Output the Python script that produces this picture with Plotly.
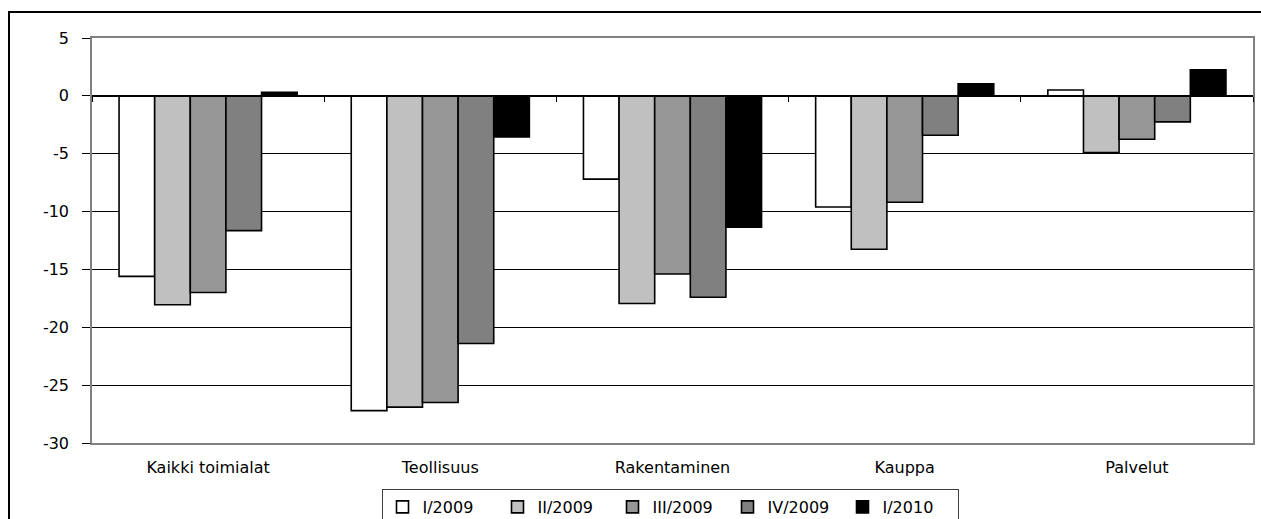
import plotly.graph_objects as go

categories = ["Kaikki toimialat", "Teollisuus", "Rakentaminen", "Kauppa", "Palvelut"]
series_names = ["I/2009", "II/2009", "III/2009", "IV/2009", "I/2010"]
v_I_2009 = [-15.6, -27.2, -7.2, -9.6, 0.5]
v_II_2009 = [-18.05, -26.9, -17.95, -13.25, -4.9]
v_III_2009 = [-17.0, -26.5, -15.4, -9.2, -3.75]
v_IV_2009 = [-11.65, -21.4, -17.4, -3.4, -2.25]
v_I_2010 = [0.3, -3.55, -11.35, 1.05, 2.25]
series_values = [v_I_2009, v_II_2009, v_III_2009, v_IV_2009, v_I_2010]
colors = ["#ffffff", "#c0c0c0", "#969696", "#808080", "#000000"]
y_ticks = [5, 0, -5, -10, -15, -20, -25, -30]
y_tick_labels = ["5", "0", "-5", "-10", "-15", "-20", "-25", "-30"]
y_min, y_max = -30, 5

FONT = "DejaVu Sans, Arial, sans-serif"

fig = go.Figure()
for name, vals, col in zip(series_names, series_values, colors):
    fig.add_trace(go.Bar(
        x=categories, y=vals, name=name,
        marker=dict(color=col, line=dict(color="#000000", width=1.6)),
    ))

W, H = 1261, 519
L, R, T, B = 92, 8, 38, 76
pw = W - L - R
ph = H - T - B

fig.update_layout(
    width=W, height=H,
    margin=dict(l=L, r=R, t=T, b=B, pad=0, autoexpand=False),
    paper_bgcolor="white", plot_bgcolor="white",
    barmode="group", bargap=0.233, bargroupgap=0,
    font=dict(family=FONT, size=16, color="black"),
    showlegend=True,
    legend=dict(
        orientation="h", x=(670 - L) / pw, xanchor="center",
        y=-(489 - (T + ph)) / ph, yanchor="top",
        bordercolor="#404040", borderwidth=1,
        font=dict(family=FONT, size=16, color="black"),
        itemwidth=30, tracegroupgap=0,
        entrywidth=70,
    ),
    xaxis=dict(
        showline=True, linecolor="#808080", linewidth=1.5, mirror=True,
        ticks="", showgrid=False,
        tickfont=dict(family=FONT, size=16, color="black"),
        ticklabelstandoff=9,
    ),
    xaxis2=dict(
        matches="x", overlaying="x", anchor="free",
        position=(0 - y_min) / (y_max - y_min),
        showline=True, linecolor="#000000", linewidth=1.2,
        ticks="outside", ticklen=5, tickcolor="#000000", tickwidth=1,
        tickson="boundaries", showticklabels=False, showgrid=False,
    ),
    yaxis=dict(
        range=[y_min, y_max], tickvals=y_ticks, ticktext=y_tick_labels,
        showline=True, linecolor="#808080", linewidth=1.5, mirror=True,
        ticks="outside", ticklen=8, tickcolor="#000000", tickwidth=1,
        showgrid=True, gridcolor="#000000", gridwidth=1,
        zeroline=False,
        tickfont=dict(family=FONT, size=16, color="black"),
        ticklabelstandoff=10,
    ),
)

# invisible trace to activate the zero-line axis (xaxis2)
fig.add_trace(go.Scatter(x=categories, y=[None] * len(categories), xaxis="x2",
                         showlegend=False, hoverinfo="skip", mode="markers"))

# outer chart frame
fig.add_shape(type="rect", xref="paper", yref="paper",
              x0=(9 - L) / pw, x1=(W + 10 - L) / pw,
              y0=-(H + 10 - T - ph) / ph, y1=(T + ph - 12) / ph,
              line=dict(color="#000000", width=2), fillcolor="rgba(0,0,0,0)",
              layer="below")

fig.write_html("out.html", config={"displayModeBar": False},
               post_script="document.body.style.margin='0px';")
